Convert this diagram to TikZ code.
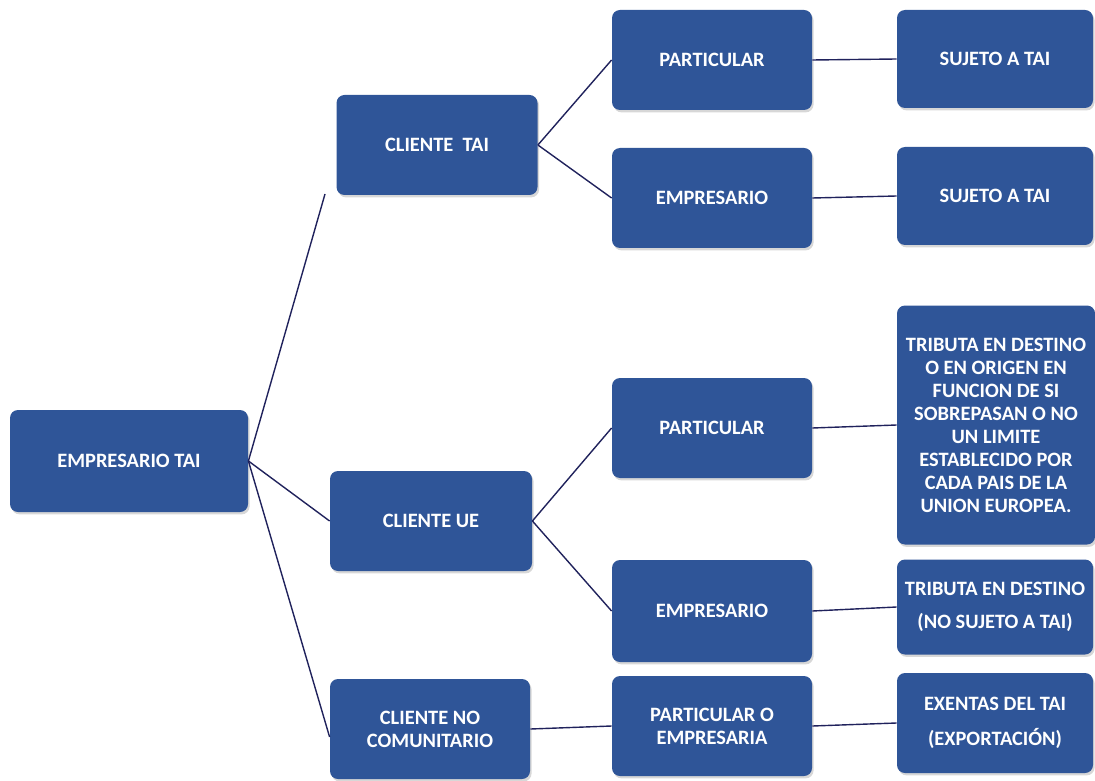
\documentclass[tikz,border=0pt]{standalone}
\usepackage{fontspec}
\setmainfont{Carlito}
\usetikzlibrary{shadows}
\definecolor{boxblue}{RGB}{47,85,152}
\definecolor{linenavy}{RGB}{32,34,92}

\begin{document}
\begin{tikzpicture}[x=0.5pt, y=-0.5pt, font=\fontsize{10.2}{11.5}\selectfont\bfseries,
	box/.style={fill=boxblue, rounded corners=4pt, text=white, align=center, inner sep=2pt,
	  drop shadow={shadow xshift=0.8pt, shadow yshift=-1.2pt, fill=gray!70, opacity=.45}},
	wbox/.style={box, minimum width=100pt, minimum height=50pt},
	rbox/.style={box, minimum width=98pt, minimum height=49pt},
	link/.style={draw=linenavy, line width=0.7pt}]
	\useasboundingbox (0,0) rectangle (1095,780);
	% first level
	\node[box, minimum width=119pt, minimum height=51pt] (root) at (129,461) {EMPRESARIO TAI};
	% clients
	\node[wbox, minimum width=100.5pt] (ctai) at (437,145) {CLIENTE\ \ TAI};
	\node[wbox, minimum width=101pt] (cue) at (431,521) {CLIENTE UE};
	\node[wbox] (cnc) at (430,729) {CLIENTE NO\\COMUNITARIO};
	% kind of client
	\node[wbox] (part1) at (712,60) {PARTICULAR};
	\node[wbox] (emp1) at (712,198) {EMPRESARIO};
	\node[wbox] (part2) at (712,428) {PARTICULAR};
	\node[wbox, minimum height=51pt] (emp2) at (712,611) {EMPRESARIO};
	\node[wbox] (pemp) at (712,726) {PARTICULAR O\\EMPRESARIA};
	% result
	\node[rbox] (suj1) at (995,59) {SUJETO A TAI};
	\node[rbox] (suj2) at (995,196) {SUJETO A TAI};
	\node[box, minimum width=99pt, minimum height=119.5pt] (trib) at (996,425)
	  {TRIBUTA EN DESTINO\\O EN ORIGEN EN\\FUNCION DE SI\\SOBREPASAN O NO\\UN LIMITE\\ESTABLECIDO POR\\CADA PAIS DE LA\\UNION EUROPEA.};
	\node[rbox, minimum height=47.5pt] (tribd) at (995,607) {TRIBUTA EN DESTINO\\[5pt](NO SUJETO A TAI)};
	\node[rbox, minimum height=50pt] (exen) at (995,723) {EXENTAS DEL TAI\\[6pt](EXPORTACIÓN)};
	\coordinate (taiend) at (325,194);
	% connectors
	\draw[link] (root.east) -- (taiend);
	\draw[link] (root.east) -- (cue.west);
	\draw[link] (root.east) -- ([yshift=-4pt]cnc.west);
	\draw[link] (ctai.east) -- (part1.west);
	\draw[link] (ctai.east) -- (emp1.west);
	\draw[link] (cue.east) -- (part2.west);
	\draw[link] (cue.east) -- (emp2.west);
	\draw[link] (cnc.east) -- (pemp.west);
	\draw[link] (part1.east) -- (suj1.west);
	\draw[link] (emp1.east) -- (suj2.west);
	\draw[link] (part2.east) -- (trib.west);
	\draw[link] (emp2.east) -- (tribd.west);
	\draw[link] (pemp.east) -- (exen.west);
\end{tikzpicture}
\end{document}
